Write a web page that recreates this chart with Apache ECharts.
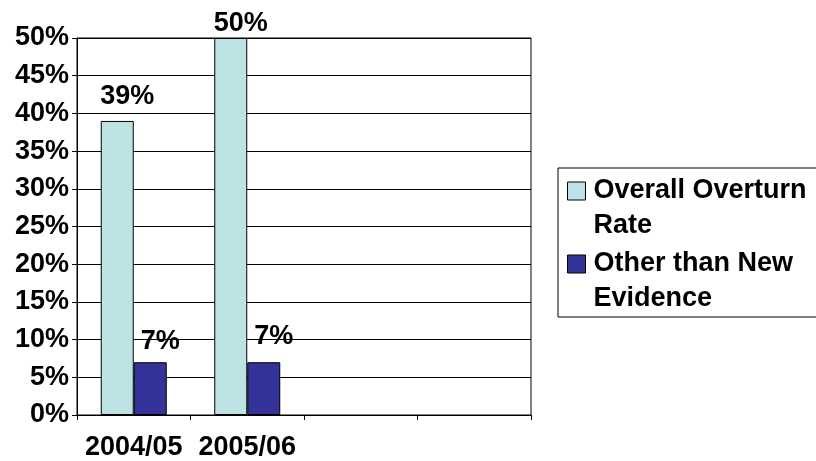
<!DOCTYPE html>
<html>
<head>
<meta charset="utf-8">
<script src="https://cdn.jsdelivr.net/npm/echarts@6/dist/echarts.min.js"></script>
<style>
  html, body { margin: 0; padding: 0; background: #ffffff; }
  #chart { width: 816px; height: 461px; }
</style>
</head>
<body>
<div id="chart"></div>
<script>
// Appeal overturn rates by year (percent)
const categories = ['2004/05', '2005/06', '', ''];
const overallOverturnRate = [39, 50, null, null];
const otherThanNewEvidence = [7, 7, null, null];
const seriesNames = ['Overall Overturn\nRate', 'Other than New\nEvidence'];

// How far each value label sits above its bar
const overallLabelGap = [11, 1];
const otherLabelGap = [7, 12];

const FONT = "'Liberation Sans', Arial, Helvetica, sans-serif";

function withLabelGaps(values, gaps) {
  return values.map(function (v, i) {
    if (v == null) return '-';
    return { value: v, label: { distance: gaps[i] } };
  });
}

const labelStyle = {
  show: true,
  position: 'top',
  offset: [10, 0],
  formatter: '{c}%',
  color: '#000',
  fontFamily: FONT,
  fontWeight: 'bold',
  fontSize: 27
};

const chart = echarts.init(document.getElementById('chart'), null, { renderer: 'canvas' });

chart.setOption({
  animation: false,
  backgroundColor: '#ffffff',
  grid: {
    left: 77, right: 285, top: 38, bottom: 44,
    show: true,
    borderColor: '#000',
    borderWidth: 1,
    backgroundColor: 'transparent',
    containLabel: false
  },
  legend: {
    orient: 'vertical',
    left: 558,
    top: 168,
    padding: [5, 300, 0, 9],
    borderColor: '#000',
    borderWidth: 1,
    itemGap: 2,
    itemWidth: 21,
    itemHeight: 70,
    // square marker aligned with the first text line
    icon: 'path://M0,0M0,8.5H18V26.5H0ZM21,70',
    itemStyle: { borderColor: '#000', borderWidth: 1 },
    textStyle: {
      fontFamily: FONT,
      fontWeight: 'bold',
      fontSize: 27,
      lineHeight: 35,
      color: '#000'
    },
    data: seriesNames
  },
  xAxis: {
    type: 'category',
    data: categories,
    boundaryGap: true,
    axisLine: { show: true, lineStyle: { color: '#000', width: 1 } },
    axisTick: { show: true, length: 5, interval: 0, lineStyle: { color: '#000' } },
    axisLabel: {
      interval: 0,
      margin: 19,
      color: '#000',
      fontFamily: FONT,
      fontWeight: 'bold',
      fontSize: 27
    },
    splitLine: { show: false }
  },
  yAxis: {
    type: 'value',
    min: 0,
    max: 50,
    interval: 5,
    axisLine: { show: true, lineStyle: { color: '#000', width: 1 } },
    axisTick: { show: true, length: 5, lineStyle: { color: '#000' } },
    axisLabel: {
      formatter: '{value}%',
      margin: 8,
      color: '#000',
      fontFamily: FONT,
      fontWeight: 'bold',
      fontSize: 27
    },
    splitLine: { show: true, lineStyle: { color: '#000', width: 1 } }
  },
  series: [
    {
      name: seriesNames[0],
      type: 'bar',
      data: withLabelGaps(overallOverturnRate, overallLabelGap),
      barWidth: 33,
      barGap: '0%',
      itemStyle: { color: '#BDE2E4', borderColor: '#000', borderWidth: 1 },
      label: labelStyle
    },
    {
      name: seriesNames[1],
      type: 'bar',
      data: withLabelGaps(otherThanNewEvidence, otherLabelGap),
      barWidth: 33,
      barGap: '0%',
      itemStyle: { color: '#333399', borderColor: '#000', borderWidth: 1 },
      label: labelStyle
    }
  ]
});
</script>
</body>
</html>
